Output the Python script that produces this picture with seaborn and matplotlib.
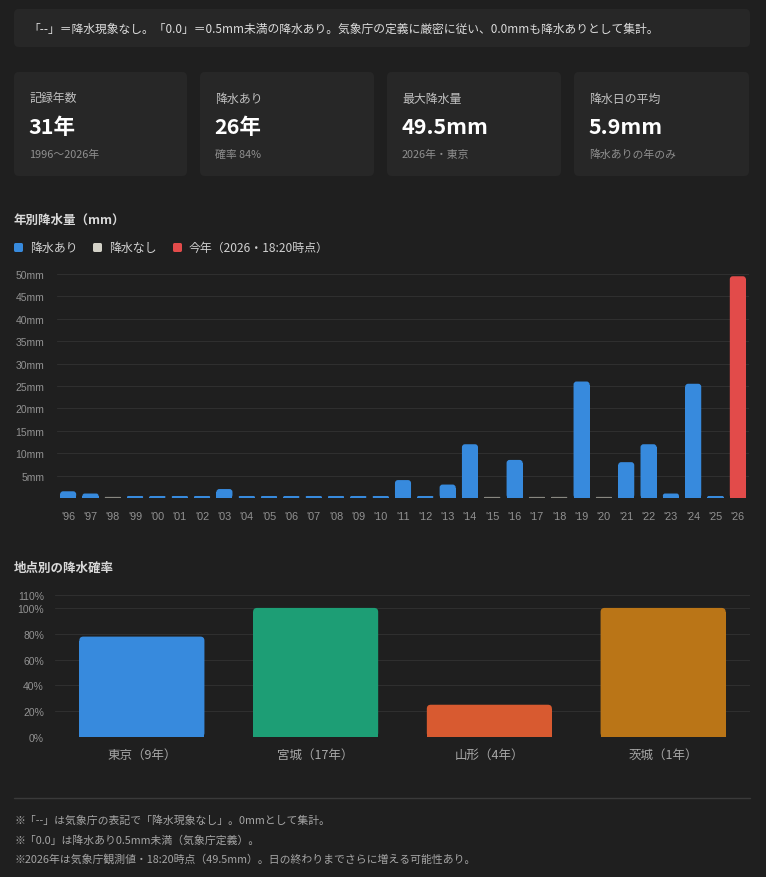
import numpy as np
import pandas as pd
import seaborn as sns
import matplotlib.pyplot as plt
from matplotlib.patches import FancyBboxPatch, Rectangle

sns.set_theme(style="dark")
plt.rcParams['font.family'] = ['Liberation Sans', 'Noto Sans CJK JP', 'DejaVu Sans']

# yearly precipitation (mm); None = "--" (no precipitation), 0.0 = under 0.5mm
years = list(range(1996, 2027))
amounts = [1.5, 1.0, None, 0.0, 0.0, 0.0, 0.0, 2.0, 0.0, 0.0,
           0.0, 0.0, 0.0, 0.0, 0.0, 4.0, 0.0, 3.0, 12.0, None,
           8.5, None, None, 26.0, None, 8.0, 12.0, 1.0, 25.5, 0.0,
           49.5]
current_year = 2026

# precipitation probability by station
stations = ['東京', '宮城', '山形', '茨城']
station_years = [9, 17, 4, 1]
station_rain_years = [7, 17, 1, 1]

BG = '#1f1f1f'
CARD = '#272727'
GRID = '#2f2f2f'
TICK = '#929292'
C_RAIN = '#378ADD'
C_NONE = '#888780'
C_NONE_LEG = '#D3D1C7'
C_NOW = '#E24B4A'
station_colors = ['#378ADD', '#1D9E75', '#D85A30', '#BA7517']

W, H = 766, 878
fig = plt.figure(figsize=(W / 100, H / 100), dpi=100, facecolor=BG)
jp = ['Noto Sans CJK JP', 'DejaVu Sans']


def px_axes(l, t, r, b):
    return fig.add_axes([l / W, 1 - b / H, (r - l) / W, (b - t) / H])


def box(l, t, r, b, color):
    fig.patches.append(FancyBboxPatch((l / W, 1 - b / H), (r - l) / W, (b - t) / H,
                                      boxstyle="round,pad=0,rounding_size=0.006",
                                      transform=fig.transFigure, facecolor=color,
                                      edgecolor='none', zorder=0))


def ftext(x, y, s, **kw):
    fig.text(x / W, 1 - y / H, s, va='center', ha=kw.pop('ha', 'left'), **kw)


def round_tops(ax, radius_px):
    # swap seaborn's bars for ones with rounded top corners
    x0, y0 = ax.transData.transform((0, 0))
    x1, y1 = ax.transData.transform((1, 1))
    sx, sy = x1 - x0, y1 - y0
    for p in list(ax.patches):
        x, y, w, h = p.get_x(), p.get_y(), p.get_width(), p.get_height()
        col = p.get_facecolor()
        rpx = min(radius_px, h * sy / 2)
        p.remove()
        ax.add_patch(FancyBboxPatch((x, y), w, h, boxstyle=f"round,pad=0,rounding_size={rpx / sx}",
                                    mutation_aspect=sx / sy, facecolor=col, edgecolor='none', zorder=2))
        ax.add_patch(Rectangle((x, y), w, h - rpx / sy, facecolor=col, edgecolor='none', zorder=2))


# banner
box(14, 10, 750, 48, CARD)
ftext(28, 29, '「--」＝降水現象なし。「0.0」＝0.5mm未満の降水あり。気象庁の定義に厳密に従い、0.0mmも降水ありとして集計。',
      fontsize=8.5, color='#dcdcdc', family=jp)

# summary cards
rain_vals = [a for a in amounts if a is not None]
n_years = len(years)
n_rain = len(rain_vals)
cards = [
    ('記録年数', f'{n_years}年', f'{years[0]}〜{years[-1]}年'),
    ('降水あり', f'{n_rain}年', f'確率 {round(100 * n_rain / n_years)}%'),
    ('最大降水量', f'{max(rain_vals):.1f}mm', f'{years[int(np.argmax([a or 0 for a in amounts]))]}年・東京'),
    ('降水日の平均', f'{np.mean(rain_vals):.1f}mm', '降水ありの年のみ'),
]
card_x = [(14, 187), (200, 374), (387, 561), (574, 749)]
for (l, r), (lab, val, sub) in zip(card_x, cards):
    box(l, 73, r, 177, CARD)
    ftext(l + 15, 99, lab, fontsize=8.6, color='#c0c0c0', family=jp)
    ftext(l + 14, 127, val, fontsize=15.5, color='#ffffff', weight='bold', family=jp)
    ftext(l + 15, 155, sub, fontsize=7.8, color='#8f8f8f', family=jp)

# yearly chart title & legend
ftext(14, 220, '年別降水量（mm）', fontsize=9, color='#d8d8d8', weight='bold', family=jp)
legend_items = [(C_RAIN, '降水あり', 14), (C_NONE_LEG, '降水なし', 93), (C_NOW, '今年（2026・18:20時点）', 173)]
for col, lab, x in legend_items:
    fig.patches.append(FancyBboxPatch((x / W, 1 - 253 / H), 9 / W, 9 / H, transform=fig.transFigure,
                                      boxstyle="round,pad=0,rounding_size=0.002",
                                      facecolor=col, edgecolor='none'))
    ftext(x + 16, 248, lab, fontsize=8.6, color='#d0d0d0', family=jp)

# yearly bar chart
kind = []
shown = []
for y, a in zip(years, amounts):
    if y == current_year:
        kind.append('now')
        shown.append(a)
    elif a is None:
        kind.append('none')
        shown.append(0.25)
    else:
        kind.append('rain')
        shown.append(max(a, 0.45))
df = pd.DataFrame({'year': [f"'{y % 100:02d}" for y in years], 'mm': shown, 'kind': kind})

ax = px_axes(57, 275, 749, 499)
ax.set_facecolor(BG)
sns.barplot(data=df, x='year', y='mm', hue='kind', dodge=False, legend=False, width=0.72,
            palette={'rain': C_RAIN, 'none': C_NONE, 'now': C_NOW}, saturation=1,
            linewidth=0, edgecolor='none', ax=ax)
ax.set_ylim(0, 50)
ax.set_yticks(range(0, 55, 5))
ax.set_yticklabels([''] + [f'{v}mm' for v in range(5, 55, 5)])
ax.set_xlim(-0.5, len(years) - 0.5)
ax.set_xlabel('')
ax.set_ylabel('')
ax.grid(axis='y', color=GRID, linewidth=0.8)
ax.grid(axis='x', visible=False)
ax.set_axisbelow(True)
for s in ax.spines.values():
    s.set_visible(False)
ax.tick_params(axis='y', length=6, color=GRID, pad=3, labelsize=7.5, labelcolor=TICK)
ax.tick_params(axis='x', length=0, pad=9, labelsize=7.8, labelcolor=TICK)
round_tops(ax, 3)

# station chart
ftext(14, 568, '地点別の降水確率', fontsize=9, color='#d8d8d8', weight='bold', family=jp)
pct = [100 * r / n for r, n in zip(station_rain_years, station_years)]
df2 = pd.DataFrame({'station': [f'{s}（{n}年）' for s, n in zip(stations, station_years)], 'pct': pct})

ax2 = px_axes(55, 596, 750, 738)
ax2.set_facecolor(BG)
sns.barplot(data=df2, x='station', y='pct', hue='station', legend=False, width=0.72,
            palette=station_colors, saturation=1, linewidth=0, edgecolor='none', ax=ax2)
ax2.set_ylim(0, 110)
ax2.set_yticks([0, 20, 40, 60, 80, 100, 110])
ax2.set_yticklabels([f'{v}%' for v in [0, 20, 40, 60, 80, 100, 110]])
ax2.set_xlabel('')
ax2.set_ylabel('')
ax2.grid(axis='y', color=GRID, linewidth=0.8)
ax2.grid(axis='x', visible=False)
ax2.set_axisbelow(True)
for s in ax2.spines.values():
    s.set_visible(False)
ax2.tick_params(axis='y', length=5, color=GRID, pad=3, labelsize=7.5, labelcolor=TICK)
ax2.tick_params(axis='x', length=0, pad=8, labelsize=9, labelcolor='#a8a8a8')
for t in ax2.get_xticklabels():
    t.set_family(jp)
round_tops(ax2, 4)

# separator and notes
fig.add_artist(plt.Line2D([14 / W, 750 / W], [1 - 799 / H, 1 - 799 / H], color='#3a3a3a', linewidth=1))
notes = ['※「--」は気象庁の表記で「降水現象なし」。0mmとして集計。',
         '※「0.0」は降水あり0.5mm未満（気象庁定義）。',
         '※2026年は気象庁観測値・18:20時点（49.5mm）。日の終わりまでさらに増える可能性あり。']
for i, n in enumerate(notes):
    ftext(14, 821 + 19 * i, n, fontsize=7.8, color='#a5a5a5', family=jp)

fig.savefig('out.png', dpi=100, facecolor=BG)
